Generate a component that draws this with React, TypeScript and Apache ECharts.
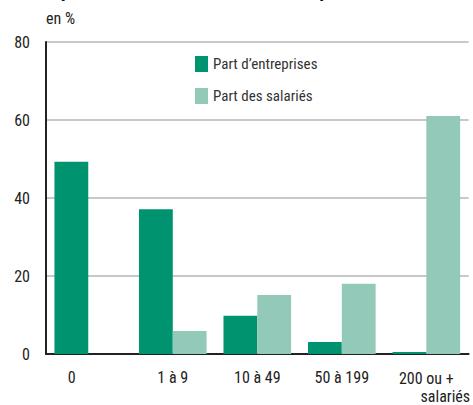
import React, { useEffect, useRef } from "react";
import * as echarts from "echarts";

const categories = ["0", "1 à 9", "10 à 49", "50 à 199", "200 ou +"];
const partEntreprises = [49.3, 37.1, 9.8, 3.1, 0.5];
const partSalaries = [0, 5.9, 15.1, 18.0, 61.0];
const yTicks = [0, 20, 40, 60, 80];

const FONT = "'Liberation Sans Narrow', 'Arial Narrow', 'Roboto Condensed', Roboto, sans-serif";

export default function App() {
  const ref = useRef<HTMLDivElement>(null);
  useEffect(() => {
    const chart = echarts.init(ref.current!, null, { renderer: "svg" });
    chart.setOption({
      animation: false,
      textStyle: { fontFamily: FONT },
      graphic: [
        {
          type: "text",
          left: 40,
          top: -20,
          style: {
            text: "Répartition selon la taille de l'entreprise",
            font: "bold 20px " + FONT,
            fill: "#111",
          },
        },
        {
          type: "text",
          left: 46,
          top: 10,
          style: { text: "en %", font: "16px " + FONT, fill: "#222" },
        },
      ],
      legend: {
        orient: "vertical",
        left: 190,
        top: 51,
        itemWidth: 13,
        itemHeight: 16,
        itemGap: 16,
        icon: "rect",
        textStyle: { fontFamily: FONT, fontSize: 15, color: "#333" },
        data: ["Part d\u2019entreprises", "Part des salariés"],
      },
      grid: { left: 46, right: 3, top: 42, bottom: 51 },
      xAxis: {
        type: "category",
        data: categories,
        axisLine: { lineStyle: { color: "#222", width: 2 } },
        axisTick: { show: false },
        axisLabel: {
          margin: 15,
          fontSize: 16,
          color: "#222",
          fontFamily: FONT,
          interval: 0,
          formatter: (v: string, i: number) => {
            if (i === 0) return "{z|" + v + "}";
            if (i === categories.length - 1) return "{t|" + v + "}\n{s|salariés}";
            return v;
          },
          rich: {
            z: { fontSize: 16, color: "#222", fontFamily: FONT, padding: [0, 33, 0, 0] },
            t: { fontSize: 16, color: "#222", fontFamily: FONT, lineHeight: 18 },
            s: { fontSize: 16, color: "#222", fontFamily: FONT, lineHeight: 18, padding: [0, 0, 0, 38] },
          },
        },
      },
      yAxis: {
        type: "value",
        min: yTicks[0],
        max: yTicks[yTicks.length - 1],
        interval: 20,
        axisLine: { show: true, lineStyle: { color: "#222", width: 2 } },
        axisTick: { show: false },
        axisLabel: { margin: 16, fontSize: 16, color: "#222", fontFamily: FONT },
        splitLine: { lineStyle: { color: "#c8c8c8", width: 2 } },
      },
      series: [
        {
          name: "Part d\u2019entreprises",
          type: "bar",
          data: partEntreprises,
          itemStyle: { color: "#009370" },
          barGap: "0%",
          barCategoryGap: "20%",
        },
        {
          name: "Part des salariés",
          type: "bar",
          data: partSalaries,
          itemStyle: { color: "#92c9b9" },
          barGap: "0%",
          barCategoryGap: "20%",
        },
      ],
    });
    return () => chart.dispose();
  }, []);
  return (
    <div
      ref={ref}
      style={{ position: "fixed", left: 0, top: 0, width: 473, height: 405, background: "#fff" }}
    />
  );
}
